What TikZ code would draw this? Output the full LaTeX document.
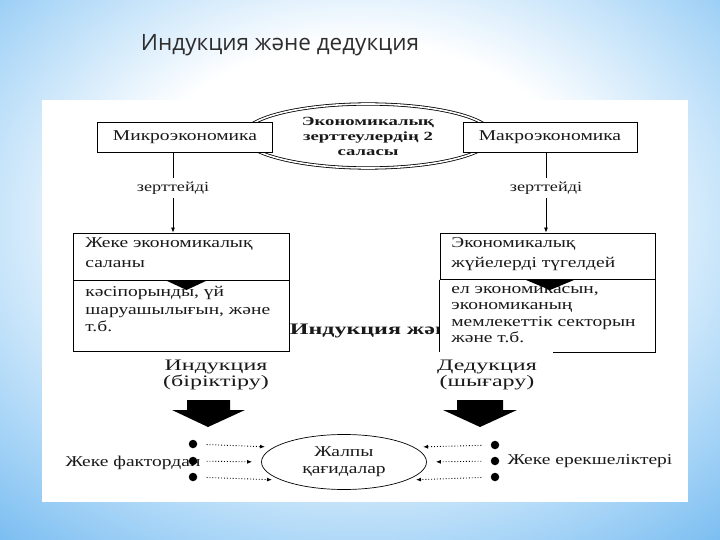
\documentclass[tikz,border=0pt]{standalone}
\usepackage{fontspec}
\setmainfont{Liberation Serif}[FakeStretch=1.3]
\newfontfamily\widefont{Liberation Serif}[FakeStretch=1.5]
\newfontfamily\titlefont{Open Sans}
\usetikzlibrary{shapes.geometric,arrows.meta}
\definecolor{skyedge}{RGB}{112,184,240}
\definecolor{skymid}{RGB}{178,218,248}
\definecolor{inkgray}{RGB}{45,45,45}
\pgfdeclareradialshading{slideglow}{\pgfpoint{0bp}{6bp}}{color(0bp)=(white); color(16bp)=(white); color(29bp)=(skymid); color(40bp)=(skyedge); color(100bp)=(skyedge)}

\begin{document}
\begin{tikzpicture}[x=1pt,y=-1pt,line width=0.8pt,
  >={Latex[length=5pt,width=4pt]},
  every node/.style={text=black!90,font=\fontsize{15}{17}\selectfont},
  frame/.style={draw,fill=white,inner sep=0pt},
  body/.style={anchor=north west,align=left,inner sep=0pt},
  dotnode/.style={circle,fill=black,inner sep=0pt,minimum size=8.5pt},
  dotarr/.style={->,dotted,line width=0.9pt,shorten <=9pt,shorten >=9pt}]
\shade[shading=slideglow] (0,0) rectangle (720,540);
\useasboundingbox (0,0) rectangle (720,540);
\fill[white] (42,100) rectangle (688,502);
\node[font=\titlefont\fontsize{22.5}{27}\selectfont,text=inkgray] (title) at (280,45) {Индукция және дедукция};

% two branches
\node[ellipse,draw,double,double distance=1.6pt,line width=0.8pt,minimum width=250pt,minimum height=64pt,
  align=center,font=\widefont\bfseries\fontsize{12.5}{15}\selectfont] (fields) at (368,136) {Экономикалық\\зерттеулердің 2\\саласы};
\node[frame,minimum width=175pt,minimum height=30pt] (micro) at (185,137) {Микроэкономика};
\node[frame,minimum width=174pt,minimum height=30pt] (macro) at (550,137) {Макроэкономика};

\node (studyL) at (173,188) {\fontsize{14}{16}\selectfont зерттейді};
\node (studyR) at (546,188) {\fontsize{14}{16}\selectfont зерттейді};

\node[anchor=west,inner sep=0pt,font=\widefont\bfseries\fontsize{16}{18}\selectfont] (banner) at (289.5,331) {Индукция және дедукция};

\node[frame,minimum width=216pt,minimum height=47pt] (partA) at (181,256.5) {};
\node[frame,minimum width=216pt,minimum height=71pt] (partB) at (181,315.5) {};
\node[frame,minimum width=215pt,minimum height=47pt] (wholeA) at (547.5,256.5) {};
\node[fill=white,inner sep=0pt,minimum width=215pt,minimum height=72pt] (wholeB) at (547.5,316) {};
\coordinate (gap) at (553,352);
\draw (wholeB.north west) -- (wholeB.south west);
\draw (wholeB.north west) -- (wholeB.north east) -- (wholeB.south east) -- (wholeB.south east -| gap);

\node[body,font=\fontsize{15}{20}\selectfont] (partAt) at (85,237) {Жеке экономикалық\\саланы};
\node[body,font=\fontsize{15}{17.5}\selectfont] (partBt) at (85,286) {кәсіпорынды, үй\\шаруашылығын, және\\т.б.};
\node[body,font=\fontsize{15}{20}\selectfont] (wholeAt) at (451,237) {Экономикалық\\жүйелерді түгелдей};
\node[body,font=\fontsize{15}{16.4}\selectfont] (wholeBt) at (451,286) {ел экономикасын,\\экономиканың\\мемлекеттік секторын\\және т.б.};
\fill (165,280) -- (208,280) -- (186.5,290) -- cycle;
\fill (526,280) -- (574,280) -- (550,290) -- cycle;

\draw (micro.south -| studyL) -- (studyL);
\draw[->] (studyL) -- (studyL |- partA.north);
\draw (macro.south -| studyR) -- (studyR);
\draw[->] (studyR) -- (studyR |- wholeA.north);

\node[align=center,font=\widefont\fontsize{16}{16}\selectfont] (induct) at (216,375) {Индукция\\(біріктіру)};
\node[align=center,font=\widefont\fontsize{16}{16}\selectfont] (deduct) at (487,375) {Дедукция\\(шығару)};

\fill[shift={(208,400)}] (-21,0) -- (22,0) -- (22,10) -- (37,10) -- (0,27) -- (-36,10) -- (-21,10) -- cycle;
\fill[shift={(480,400)}] (-23,0) -- (23,0) -- (23,10) -- (37,10) -- (0,27) -- (-37,10) -- (-23,10) -- cycle;

% general rules
\node[ellipse,draw,line width=0.7pt,minimum width=165pt,minimum height=55pt,inner sep=0pt,
  align=center] (rules) at (344,462) {Жалпы\\қағидалар};
\node[anchor=west] (factors) at (62,463) {Жеке фактордан};
\node[anchor=west] (traits) at (504,461) {Жеке ерекшеліктері};
\node[dotnode] (l1) at (193,444) {};
\node[dotnode] (l2) at (193,461) {};
\node[dotnode] (l3) at (193,477) {};
\node[dotnode] (r1) at (495,445) {};
\node[dotnode] (r2) at (495,461) {};
\node[dotnode] (r3) at (495,477) {};
\draw[dotarr] (l1) -- (rules.168);
\draw[dotarr] (l2) -- (rules.180);
\draw[dotarr] (l3) -- (rules.196);
\draw[dotarr] (r1) -- (rules.12);
\draw[dotarr] (r2) -- (rules.0);
\draw[dotarr] (r3) -- (rules.-16);
\end{tikzpicture}
\end{document}
